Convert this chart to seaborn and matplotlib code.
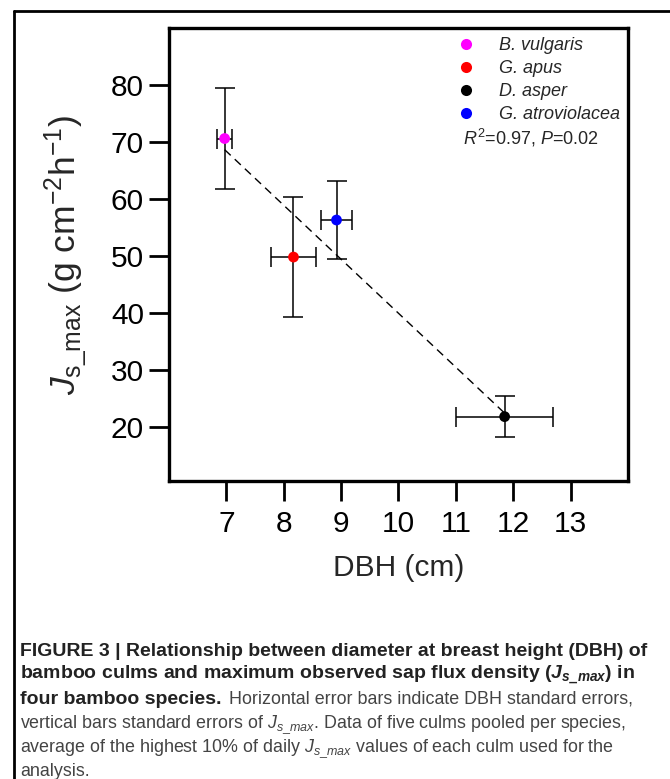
import matplotlib
matplotlib.use("Agg")
import pandas as pd
import seaborn as sns
import matplotlib.pyplot as plt
from matplotlib.lines import Line2D

species = ["B. vulgaris", "G. apus", "D. asper", "G. atroviolacea"]
dbh = [6.97, 8.17, 11.85, 8.92]
dbh_se = [0.13, 0.40, 0.85, 0.27]
js_max = [70.6, 49.8, 21.8, 56.3]
js_se = [8.9, 10.5, 3.6, 6.9]
colors = ["#ff00ff", "#ff0000", "#000000", "#0000ff"]
x_ticks = [7, 8, 9, 10, 11, 12, 13]
y_ticks = [20, 30, 40, 50, 60, 70, 80]

caption = [
    ("FIGURE 3 | Relationship between diameter at breast height (DBH) of", "bold"),
    (r"bamboo culms and maximum observed sap flux density ($\mathbfit{J}_{\mathbfit{s\_max}}$) in", "bold"),
    ("four bamboo species.", "bold"),
    (r"vertical bars standard errors of $J_{s\_max}$. Data of five culms pooled per species,", "normal"),
    (r"average of the highest 10% of daily $J_{s\_max}$ values of each culm used for the", "normal"),
    ("analysis.", "normal"),
]
caption_rest = " Horizontal error bars indicate DBH standard errors,"

sns.set_style("white")
plt.rcParams["font.family"] = ["Liberation Sans", "DejaVu Sans"]
plt.rcParams["mathtext.fontset"] = "custom"
plt.rcParams["mathtext.rm"] = "Liberation Sans"
plt.rcParams["mathtext.it"] = "Liberation Sans:italic"
plt.rcParams["mathtext.bf"] = "Liberation Sans:bold"
plt.rcParams["mathtext.bfit"] = "Liberation Sans:italic:bold"

data = pd.DataFrame({"species": species, "dbh": dbh, "js": js_max,
                     "dbh_se": dbh_se, "js_se": js_se})

fig = plt.figure(figsize=(6.7, 7.79), dpi=100)
ax = fig.add_axes([0.2522, 0.3825, 0.6851, 0.5816])

# error bars first, dots on top
ax.errorbar(data["dbh"], data["js"], xerr=data["dbh_se"], yerr=data["js_se"],
            fmt="none", ecolor="black", elinewidth=1.1, capsize=7.5, capthick=1.1, zorder=2)
sns.regplot(data=data, x="dbh", y="js", scatter=False, ci=None, truncate=True, ax=ax,
            line_kws=dict(color="black", lw=1.0, ls=(0, (6, 4)), zorder=2.5))
sns.scatterplot(data=data, x="dbh", y="js", hue="species", hue_order=species,
                palette=colors, s=60, edgecolor="none", ax=ax, zorder=3, legend=False)

ax.set_xlim(6, 14)
ax.set_ylim(10.5, 90)
ax.set_xticks(x_ticks)
ax.set_yticks(y_ticks)
ax.tick_params(axis="both", direction="out", length=14.5, width=2.0, labelsize=21.5,
               colors="black", bottom=True, left=True)
ax.tick_params(axis="y", pad=3.5)
ax.tick_params(axis="x", pad=6)
for sp in ax.spines.values():
    sp.set_linewidth(2.4)
    sp.set_color("black")

ax.set_xlabel("DBH (cm)", fontsize=21.5)
ax.set_ylabel(r"$J_{\mathrm{s\_max}}$ (g cm$^{-2}$h$^{-1}$)", fontsize=25.5)
ax.xaxis.set_label_coords(0.5, -0.192)
ax.xaxis.label.set_va("center")
ax.yaxis.set_label_coords(-0.224, 0.50)
ax.yaxis.label.set_va("center")

handles = [Line2D([], [], ls="none", marker="o", ms=8, mfc=c, mec="none") for c in colors]
ax.legend(handles, species, loc="upper left", bbox_to_anchor=(0.612, 0.995), frameon=False,
          prop={"style": "italic", "size": 13}, labelspacing=0.33, handletextpad=1.3,
          handlelength=1.0, borderaxespad=0.0)
ax.text(0.6405, 0.757, r"$R^2$=0.97, $P$=0.02", transform=ax.transAxes,
        fontsize=13, va="center", ha="left")

# outer frame of the figure panel
fig.add_artist(Line2D([14 / 670, 14 / 670], [0, 1 - 10.7 / 779], color="black", lw=2.0))
fig.add_artist(Line2D([14 / 670, 1], [1 - 10.7 / 779, 1 - 10.7 / 779], color="black", lw=2.0))

# caption
baselines = [656, 680, 704, 728, 752, 775.5]
for (line, weight), yb in zip(caption, baselines):
    col = "#222222" if weight == "bold" else "#444444"
    size = 14 if weight == "bold" else 12.9
    t = fig.text(20 / 670, 1 - yb / 779, line, fontsize=size, fontweight=weight,
                 color=col, va="baseline", ha="left")
    if line.startswith("four"):
        ax.annotate(caption_rest, xy=(1, 0), xycoords=t, xytext=(1.5, 0),
                    textcoords="offset points", va="bottom", ha="left",
                    fontsize=12.9, color="#444444", annotation_clip=False)

fig.savefig("out.png", dpi=100)
